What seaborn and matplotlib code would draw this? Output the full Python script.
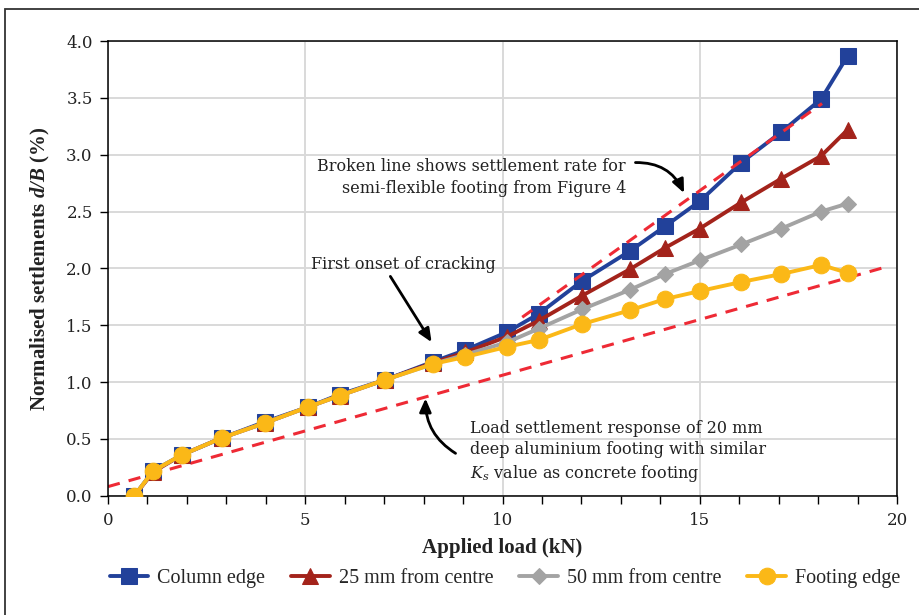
import numpy as np
import pandas as pd
import matplotlib
matplotlib.use("Agg")
import matplotlib.pyplot as plt
from matplotlib.patches import Rectangle
from matplotlib.ticker import MultipleLocator, FormatStrFormatter
import seaborn as sns

# ---- data ----
load_kn = [0.67, 1.15, 1.88, 2.90, 3.98, 5.07, 5.87, 7.03, 8.25, 9.05,
           10.12, 10.92, 12.02, 13.22, 14.12, 15.00, 16.05, 17.07, 18.08, 18.75]
column_edge = [0.00, 0.22, 0.36, 0.51, 0.65, 0.78, 0.89, 1.02, 1.18, 1.28,
               1.44, 1.60, 1.89, 2.15, 2.37, 2.59, 2.93, 3.20, 3.49, 3.87]
mm25_from_centre = [0.00, 0.21, 0.36, 0.51, 0.64, 0.78, 0.88, 1.02, 1.17, 1.26,
                    1.40, 1.54, 1.76, 1.99, 2.18, 2.35, 2.58, 2.79, 2.99, 3.22]
mm50_from_centre = [0.00, 0.22, 0.36, 0.51, 0.64, 0.78, 0.88, 1.02, 1.16, 1.24,
                    1.35, 1.47, 1.64, 1.81, 1.95, 2.07, 2.21, 2.35, 2.50, 2.57]
footing_edge = [0.00, 0.22, 0.36, 0.51, 0.64, 0.78, 0.88, 1.02, 1.16, 1.22,
                1.31, 1.37, 1.51, 1.63, 1.73, 1.80, 1.88, 1.95, 2.03, 1.96]

series_names = ["Column edge", "25 mm from centre", "50 mm from centre", "Footing edge"]
series_values = [column_edge, mm25_from_centre, mm50_from_centre, footing_edge]

# reference broken lines (x, y endpoints)
aluminium_x = [0.0, 19.8]
aluminium_y = [0.08, 2.02]
semi_flex_x = [10.5, 18.1]
semi_flex_y = [1.57, 3.45]

x_ticks = [0, 5, 10, 15, 20]
y_ticks = [0.0, 0.5, 1.0, 1.5, 2.0, 2.5, 3.0, 3.5, 4.0]

# ---- style ----
sns.set_style("white")
plt.rcParams["font.family"] = ["DejaVu Serif"]
plt.rcParams["mathtext.fontset"] = "custom"
plt.rcParams["mathtext.rm"] = "DejaVu Serif"
plt.rcParams["mathtext.it"] = "DejaVu Serif:italic"
plt.rcParams["mathtext.bf"] = "Liberation Serif:bold"
try:
    plt.rcParams["mathtext.bfit"] = "Liberation Serif:italic:bold"
    has_bfit = True
except Exception:
    has_bfit = False

COND = ["Liberation Serif", "DejaVu Serif"]
TXT = "#222222"

colors = ["#22419A", "#A3231B", "#A3A3A3", "#FBB817"]
markers = ["s", "^", "D", "o"]
msizes = [11, 11, 8.5, 12]

fig = plt.figure(figsize=(9.19, 6.15), dpi=100)
ax = fig.add_axes([108/919, 1-495.7/615, (897-108)/919, (495.7-41)/615])

df = pd.DataFrame({"load": load_kn})
for name, vals, c, m, ms in zip(series_names, series_values, colors, markers, msizes):
    df[name] = vals
    sns.lineplot(data=df, x="load", y=name, ax=ax, color=c, marker=m,
                 markersize=ms, markeredgecolor=c, linewidth=2.8, label=name,
                 zorder=3)

ax.plot(aluminium_x, aluminium_y, color="#EE2A35", lw=2.2, ls=(0, (4, 3)), zorder=2)
ax.plot(semi_flex_x, semi_flex_y, color="#EE2A35", lw=2.2, ls=(0, (4, 3)), zorder=4)

ax.set_xlim(0, 20)
ax.set_ylim(0, 4.0)
ax.set_xticks(x_ticks)
ax.set_yticks(y_ticks)
ax.xaxis.set_minor_locator(MultipleLocator(1))
ax.yaxis.set_major_formatter(FormatStrFormatter("%.1f"))
ax.tick_params(axis="both", which="both", direction="out", length=6, width=1,
               color="black", labelsize=12, labelcolor=TXT)
ax.tick_params(axis="x", which="both", bottom=True, pad=6)
ax.tick_params(axis="y", which="both", left=True, pad=5)
ax.grid(True, which="major", color="#d9d9d9", lw=1.4, zorder=0)
ax.set_axisbelow(True)
for s in ax.spines.values():
    s.set_color("black")
    s.set_linewidth(1.1)

ax.set_xlabel("Applied load (kN)", fontsize=15, fontweight="bold", labelpad=6,
              family=COND, color=TXT)
if has_bfit:
    ylab = r"Normalised settlements $\mathbfit{d/B}$ (%)"
else:
    ylab = r"Normalised settlements d/B (%)"
ax.set_ylabel(ylab, fontsize=15, fontweight="bold", labelpad=10, family=COND, color=TXT)

# annotations
AFS = 11.5
ax.text(13.13, 2.80, "Broken line shows settlement rate for\nsemi-flexible footing from Figure 4",
        ha="right", va="center", multialignment="right", fontsize=AFS, color=TXT,
        linespacing=1.35)
ax.annotate("", xy=(14.63, 2.64), xytext=(13.3, 2.93),
            arrowprops=dict(arrowstyle="-|>,head_length=0.8,head_width=0.35", color="black",
                            lw=2, connectionstyle="arc3,rad=-0.35"))

ax.text(7.48, 2.03, "First onset of cracking", ha="center", va="center", fontsize=AFS,
        color=TXT)
ax.annotate("", xy=(8.24, 1.33), xytext=(7.12, 1.95),
            arrowprops=dict(arrowstyle="-|>,head_length=0.8,head_width=0.35", color="black",
                            lw=2))

ax.text(9.18, 0.385, "Load settlement response of 20 mm\ndeep aluminium footing with similar\n$K_s$ value as concrete footing",
        ha="left", va="center", multialignment="left", fontsize=AFS, color=TXT,
        linespacing=1.3)
ax.annotate("", xy=(8.05, 0.88), xytext=(8.87, 0.36),
            arrowprops=dict(arrowstyle="-|>,head_length=0.8,head_width=0.35", color="black",
                            lw=2, connectionstyle="arc3,rad=-0.3"))

# legend
ax.get_legend().remove()
handles, labels = ax.get_legend_handles_labels()
fig.legend(handles[:4], labels[:4], loc="center", bbox_to_anchor=(505/919, 1-578/615),
           bbox_transform=fig.transFigure, ncol=4, frameon=False,
           prop={"family": COND, "size": 14.5},
           handlelength=1.9, columnspacing=1.3, handletextpad=0.45)

# outer border
fig.add_artist(Rectangle((5/919, -0.1), 1.2, 0.1 + 1 - 9/615, transform=fig.transFigure,
                         fill=False, lw=1.3, edgecolor="#333333"))

fig.savefig("out.png", dpi=100)
